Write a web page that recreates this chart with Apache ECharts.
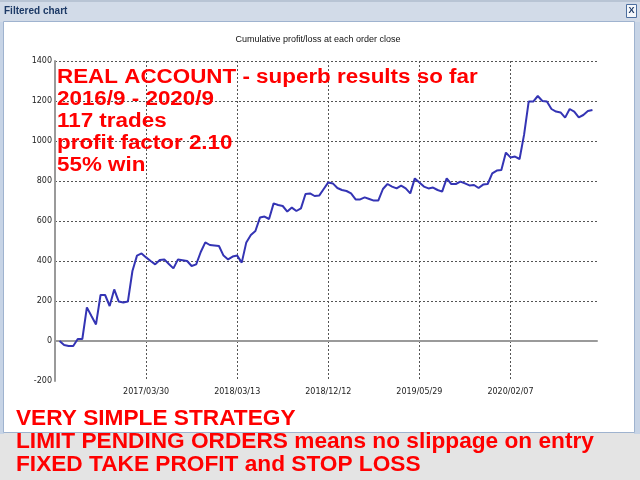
<!DOCTYPE html>
<html>
<head>
<meta charset="utf-8">
<script src="https://cdn.jsdelivr.net/npm/echarts@6/dist/echarts.min.js"></script>
<style>
html,body{margin:0;padding:0;background:#e4e4e4;}
#chart{width:640px;height:480px;}
</style>
</head>
<body>
<div id="chart"></div>
<script>
// Cumulative profit/loss after each closed order (start point + 117 trades)
const profitValues = [0,-20,-25,-25,10,10,168,125,83,230,
  230,175,258,197,192,197,350,427,438,418,
  400,383,405,408,385,363,408,404,400,375,
  383,445,493,480,478,475,427,408,422,427,
  392,493,530,550,617,622,610,688,680,675,
  647,667,650,663,735,738,725,727,760,793,
  788,765,755,750,738,708,708,718,710,702,
  703,760,785,772,763,777,763,738,813,793,
  772,763,767,755,747,813,785,785,797,788,
  778,780,765,782,785,838,852,855,942,918,
  922,910,1033,1197,1197,1225,1200,1197,1160,1147,
  1143,1117,1160,1147,1118,1130,1150,1155];
const tickPositions = [20, 40, 60, 80, 100];
const tickLabels = ['2017/03/30','2018/03/13','2018/12/12','2019/05/29','2020/02/07'];
const chartTitle = 'Cumulative profit/loss at each order close';
const windowTitle = 'Filtered chart';
const topNotes = ['REAL ACCOUNT - superb results so far','2016/9 - 2020/9','117 trades','profit factor 2.10','55% win'];
const bottomNotes = ['VERY SIMPLE STRATEGY','LIMIT PENDING ORDERS means no slippage on entry','FIXED TAKE PROFIT and STOP LOSS'];

const seriesData = profitValues.map((v, i) => [i + 1, v]);
const labelMap = {};
tickPositions.forEach((p, i) => { labelMap[p] = tickLabels[i]; });

const chart = echarts.init(document.getElementById('chart'), null, {renderer: 'canvas'});

const graphics = [
  // window chrome
  {type:'rect', z:-20, shape:{x:0,y:0,width:640,height:480}, style:{fill:'#e4e4e4'}},
  {type:'rect', z:-19, shape:{x:0,y:0,width:640,height:22}, style:{fill:'#d2dbe8'}},
  {type:'rect', z:-19, shape:{x:0,y:0,width:640,height:2}, style:{fill:'#b8c4d4'}},
  {type:'rect', z:-19, shape:{x:0,y:22,width:4,height:412}, style:{fill:'#c7d4e6'}},
  {type:'rect', z:-19, shape:{x:634,y:22,width:6,height:412}, style:{fill:'#c7d4e6'}},
  {type:'rect', z:-18, shape:{x:3.5,y:21.5,width:631,height:411}, style:{fill:'#ffffff', stroke:'#9fb3cf', lineWidth:1}},
  {type:'text', z:-17, x:4, y:11, style:{text:windowTitle, font:'bold 10px "Liberation Sans", Arial, sans-serif', fill:'#1d3a66', verticalAlign:'middle'}},
  {type:'rect', z:-17, shape:{x:626.5,y:4.5,width:10,height:13}, style:{fill:'#f4f7fb', stroke:'#4d6f9f', lineWidth:1}},
  {type:'text', z:-16, x:631.5, y:11, style:{text:'X', font:'bold 9px "Liberation Sans", Arial, sans-serif', fill:'#1d3a66', align:'center', verticalAlign:'middle'}}
];
topNotes.forEach((t, i) => {
  graphics.push({type:'text', z:100, x:57, y:67 + i * 22, scaleX:1.12,
    style:{text:t, font:'bold 20px "Liberation Sans", Arial, sans-serif', fill:'#ff0000', verticalAlign:'top'}});
});
bottomNotes.forEach((t, i) => {
  graphics.push({type:'text', z:100, x:16, y:408 + i * 23, scaleX:1.03,
    style:{text:t, font:'bold 22px "Liberation Sans", Arial, sans-serif', fill:'#ff0000', verticalAlign:'top'}});
});

chart.setOption({
  animation: false,
  backgroundColor: '#e4e4e4',
  title: {
    text: chartTitle, left: 313, top: 30, textAlign: 'center',
    textStyle: {fontFamily: '"Liberation Sans", Arial, sans-serif', fontSize: 9, fontWeight: 'normal', color: '#111'}
  },
  grid: {left: 55, right: 43, top: 61, bottom: 99, containLabel: false},
  xAxis: {
    type: 'value', min: 0, max: 119, interval: 20,
    axisLine: {show: true, lineStyle: {color: '#9a9a9a', width: 2}},
    axisTick: {show: false},
    axisLabel: {
      margin: 7, color: '#222', fontSize: 8, fontFamily: '"DejaVu Sans", Tahoma, sans-serif',
      showMinLabel: false, showMaxLabel: false,
      formatter: v => labelMap[v] || ''
    },
    splitLine: {show: true, showMinLine: false, showMaxLine: false, lineStyle: {color: '#555', type: [2, 2], width: 1}}
  },
  yAxis: {
    type: 'value', min: -200, max: 1400, interval: 200,
    axisLine: {show: true, onZero: false, lineStyle: {color: '#9a9a9a', width: 2}},
    axisTick: {show: false},
    axisLabel: {margin: 3, color: '#222', fontSize: 8, fontFamily: '"DejaVu Sans", Tahoma, sans-serif',
      formatter: v => String(v)},
    splitLine: {show: true, showMinLine: false, lineStyle: {color: '#555', type: [2, 2], width: 1}}
  },
  series: [{
    type: 'line', data: seriesData, symbol: 'none', z: 5,
    lineStyle: {color: '#3434b4', width: 2}
  }],
  graphic: {elements: graphics}
});
</script>
</body>
</html>
